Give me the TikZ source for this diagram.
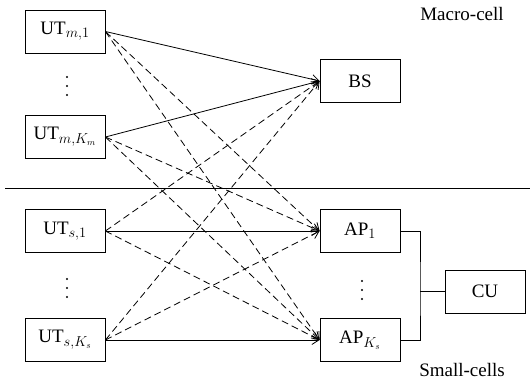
\documentclass[tikz,border=0pt]{standalone}
\usepackage{fontspec}
\setmainfont{Liberation Serif}
\usetikzlibrary{arrows.meta, positioning}
\tikzstyle{unit} = [rectangle, minimum width=80pt, minimum height=43pt, inner sep=0pt, draw=black, line width=0.8pt, font=\fontsize{19}{22}\selectfont]
\tikzstyle{label} = [font=\fontsize{19}{22}\selectfont]
\tikzstyle{link} = [line width=0.8pt, -{Straight Barb[length=7pt,width=9pt]}]
\tikzstyle{cross} = [link, dash pattern=on 7pt off 4pt]

\begin{document}
\begin{tikzpicture}[x=1pt, y=-1pt]
    \useasboundingbox (0,0) rectangle (530,385);
    % macro-cell
    \node (utm1) [unit] at (65,31.5) {UT$_{m,1}$};
    \node (utmk) [unit] at (65,137) {UT$_{m,K_m}$};
    \node (bs) [unit] at (360,81) {BS};
    \node (macro) [label] at (462,14) {Macro-cell};

    % separator
    \coordinate (sepL) at (5,188);
    \coordinate (sepR) at (530,188);
    \draw [line width=0.8pt] (sepL) -- (sepR);

    % small-cells
    \node (uts1) [unit] at (65,231) {UT$_{s,1}$};
    \node (utsk) [unit] at (65,340) {UT$_{s,K_s}$};
    \node (ap1) [unit] at (360,231) {AP$_1$};
    \node (apk) [unit] at (360,340) {AP$_{K_s}$};
    \node (cu) [unit] at (485,291.5) {CU};
    \node (small) [label] at (462,370) {Small-cells};

    % vertical dots
    \foreach \x/\y in {67/77, 67/279, 362/281}
        \foreach \i in {0,1,2}
            \fill (\x,\y+9*\i) circle (1.1pt);

    % links
    \draw [link] (utm1.east) -- (bs.west);
    \draw [link] (utmk.east) -- (bs.west);
    \draw [link] (uts1.east) -- (ap1.west);
    \draw [link] (utsk.east) -- (apk.west);
    \draw [cross] (utm1.east) -- (ap1.west);
    \draw [cross] (utm1.east) -- (apk.west);
    \draw [cross] (utmk.east) -- (ap1.west);
    \draw [cross] (utmk.east) -- (apk.west);
    \draw [cross] (uts1.east) -- (bs.west);
    \draw [cross] (uts1.east) -- (apk.west);
    \draw [cross] (utsk.east) -- (bs.west);
    \draw [cross] (utsk.east) -- (ap1.west);

    % backhaul to CU
    \coordinate (bus) at (420,291.5);
    \draw [line width=0.8pt] (ap1.east) -| (bus) |- (apk.east);
    \draw [line width=0.8pt] (bus) -- (cu.west);
\end{tikzpicture}
\end{document}
